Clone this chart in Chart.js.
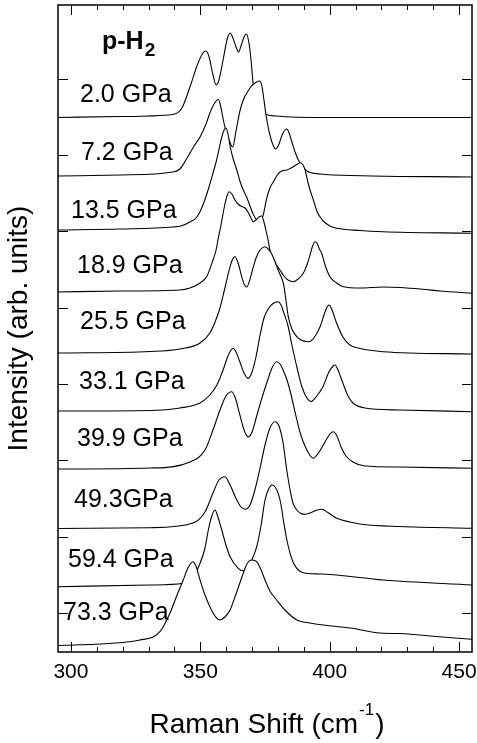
<!DOCTYPE html>
<html>
<head>
<meta charset="utf-8">
<script src="https://cdn.jsdelivr.net/npm/chart.js@4.4.0/dist/chart.umd.min.js"></script>
<style>
  html, body { margin: 0; padding: 0; background: #fff; }
  #wrap { width: 477px; height: 743px; }
</style>
</head>
<body>
<div id="wrap"><canvas id="ramanChart" width="477" height="743"></canvas></div>
<script>
// Raman shift (cm-1) and offset intensity (arb. units) of each spectrum
const shift20 = [295.0, 319.0, 339.4, 342.9, 346.0, 348.7, 351.0, 352.2, 353.4, 354.9, 356.1, 357.2, 358.8, 360.3, 361.5, 362.6, 363.8, 364.8, 365.7, 366.9, 367.8, 368.8, 369.6, 370.2, 370.7, 371.9, 373.5, 375.0, 378.9, 400.1, 455.0];
const int20 = [495.5, 496.5, 498.5, 505, 526, 547, 560, 562, 556, 538, 528, 533, 553, 573, 580, 575, 566, 561, 567, 576, 579, 570, 553, 535, 521, 509, 502, 499, 497, 495.5, 495.5];

const shift72 = [295.0, 319.0, 339.4, 342.1, 344.9, 347.6, 349.9, 352.2, 353.7, 355.3, 357.0, 358.0, 358.9, 359.9, 361.1, 362.5, 363.8, 365.3, 366.9, 368.0, 369.2, 371.1, 372.9, 373.8, 374.6, 375.4, 376.9, 379.1, 380.4, 381.6, 382.7, 383.5, 384.3, 385.4, 386.6, 388.5, 391.2, 396.3, 401.3, 455.0];
const int72 = [437, 438, 441, 444, 455, 467, 476, 489, 500, 509, 513.5, 505, 493, 482, 473, 466, 482, 502, 515, 520, 525, 530, 532, 527, 513, 498, 478, 464, 469, 478, 483, 484, 480, 471, 461, 450, 442, 439, 438, 436];

const shift135 = [295.0, 319.0, 339.4, 342.5, 346.0, 348.7, 351.0, 353.0, 354.7, 356.3, 357.4, 358.3, 359.2, 359.9, 360.7, 361.5, 362.6, 364.1, 365.3, 366.6, 367.9, 369.2, 370.4, 372.3, 374.2, 375.6, 376.9, 378.2, 379.5, 380.8, 382.0, 383.4, 384.7, 385.8, 387.3, 388.8, 389.7, 390.5, 391.2, 392.4, 393.7, 395.0, 396.3, 397.5, 400.1, 402.7, 411.7, 420.6, 455.0];
const int135 = [383, 384, 386, 387, 391, 396, 408, 423, 438, 453, 466, 476, 483, 485, 479, 467, 455, 443, 432, 423, 416, 407, 399, 392, 397, 414, 425, 431, 437, 441, 442.5, 443, 444.5, 446, 448.5, 450.3, 448, 443, 435, 423, 413, 402, 396, 392, 387, 384.7, 382.5, 381.3, 379.7];

const shift189 = [295.0, 319.0, 342.1, 346.0, 349.9, 352.6, 354.9, 356.1, 356.8, 358.0, 359.2, 360.3, 361.2, 362.2, 363.4, 364.6, 366.0, 367.3, 368.4, 369.6, 370.4, 371.5, 372.7, 373.7, 374.6, 375.4, 376.2, 376.9, 378.1, 379.2, 380.8, 382.3, 383.9, 385.9, 387.8, 389.8, 391.2, 392.4, 393.4, 394.3, 395.1, 396.0, 396.9, 398.2, 400.1, 402.4, 405.3, 411.7, 420.7, 427.2, 436.1, 442.6, 455.0];
const int189 = [321, 322, 323, 325, 330, 337, 353, 363, 373, 388, 405, 417, 421.3, 419, 413, 409, 406.5, 405, 401, 395, 391, 393, 396, 397, 391, 382, 373, 363, 355, 349, 343, 337, 333, 331.3, 334, 339.7, 348, 358, 367, 371.3, 370, 364, 359.7, 348, 336.3, 330.5, 326.3, 325, 326, 325.5, 323.7, 322, 319.7];

const shift255 = [295.0, 330.6, 342.1, 349.9, 353.7, 355.7, 357.6, 359.5, 361.5, 362.6, 363.4, 364.6, 366.0, 366.9, 367.9, 369.0, 370.5, 371.7, 373.1, 375.0, 376.2, 377.3, 378.9, 380.4, 382.1, 383.1, 384.0, 385.4, 387.3, 389.3, 392.0, 393.9, 396.3, 397.8, 399.0, 399.8, 400.9, 402.7, 405.1, 407.8, 411.7, 420.7, 455.0];
const int255 = [260, 261.5, 264, 270, 280, 291, 305, 325, 346.3, 354.5, 356.3, 350, 336.3, 329, 326, 332, 346.3, 356, 363, 366.3, 364, 360.5, 351, 341, 329.7, 313, 296.3, 284, 276.3, 272.5, 271.3, 275, 286.3, 298, 306, 308, 303, 289.7, 276, 268, 264.5, 261.3, 259];

const shift331 = [295.0, 330.6, 342.1, 349.9, 353.7, 356.4, 358.8, 360.7, 362.6, 363.8, 365.3, 366.9, 368.5, 370.0, 371.5, 373.1, 374.6, 376.2, 378.1, 380.1, 381.2, 382.3, 383.9, 385.4, 387.4, 389.3, 391.2, 392.8, 394.7, 397.4, 399.7, 401.3, 402.1, 403.2, 405.1, 407.1, 409.0, 413.6, 427.2, 455.0];
const int331 = [202, 202.5, 205, 210, 218, 228, 243, 257, 264.7, 261, 251, 240, 234.5, 241, 256, 278, 295, 304, 309.5, 311.3, 308, 300, 287, 268, 245, 226, 215, 211.5, 216, 226.3, 241, 247, 248, 243, 230, 217, 210, 205, 203, 201.3];

const shift399 = [295.0, 330.6, 346.0, 351.8, 354.9, 357.6, 359.9, 362.1, 363.4, 365.3, 366.9, 368.5, 370.0, 371.9, 373.8, 375.8, 377.7, 379.5, 380.8, 382.0, 383.5, 385.1, 386.6, 388.5, 390.8, 393.7, 395.9, 398.2, 400.1, 401.4, 402.8, 404.4, 406.3, 409.0, 413.6, 427.2, 455.0];
const int399 = [144, 145, 151, 163, 183, 203, 217, 221.3, 216, 198, 183, 176, 181, 198, 215, 231, 245, 251.3, 249, 243, 233, 218, 201, 181, 165, 154.7, 161, 171, 179, 181.3, 177, 166, 157, 151, 147, 146, 144.7];

const shift493 = [295.0, 330.6, 347.2, 351.8, 354.9, 357.2, 359.5, 361.5, 364.1, 365.7, 367.3, 369.2, 371.1, 373.1, 375.0, 376.9, 378.9, 380.4, 382.0, 383.4, 384.7, 385.8, 387.3, 388.9, 390.5, 392.4, 394.7, 396.9, 399.3, 402.7, 407.8, 413.0, 427.2, 455.0];
const int493 = [84.5, 85.3, 90, 101, 120, 133, 136.3, 128, 113, 106, 103.7, 108, 123, 145, 168, 185, 191.3, 187, 170, 143, 123, 110, 103, 99.5, 98.7, 100, 102.5, 103.7, 100.5, 94.7, 91, 88.5, 86.5, 84.7];

const shift594 = [295.0, 330.6, 343.4, 347.2, 349.9, 351.8, 353.1, 354.3, 355.7, 356.8, 358.3, 359.9, 361.5, 364.7, 366.6, 368.0, 369.2, 370.4, 371.8, 373.5, 375.0, 376.4, 377.8, 378.9, 380.1, 381.2, 382.1, 383.3, 384.7, 386.2, 387.9, 389.8, 396.3, 402.7, 420.7, 455.0];
const int594 = [26.3, 28, 29.7, 36, 49.7, 65, 83, 96, 103, 96, 83, 68, 56.3, 44.7, 42.3, 44, 48, 56, 66.3, 88, 113, 124, 128, 126, 119.7, 108, 93, 75, 59.7, 49, 43, 40.3, 39, 38, 33, 28];

const shift733 = [295.0, 326.7, 334.4, 338.3, 341.0, 343.4, 345.2, 347.1, 348.3, 349.9, 351.8, 353.7, 355.7, 357.4, 359.5, 361.5, 363.8, 366.6, 368.0, 369.9, 371.8, 373.5, 375.0, 376.9, 379.5, 382.7, 387.3, 392.4, 397.5, 407.8, 420.7, 427.2, 438.8, 455.0];
const int733 = [-32.5, -27, -18.7, 0, 18, 33, 45, 51.3, 47, 33, 18, 6.3, -3, -7, -4, 3, 19, 39.7, 49, 53, 51.3, 43, 33, 22, 13, 3, -7, -10, -12, -15, -20.3, -20.5, -23, -26.3];

const pressureLabels = ['2.0 GPa', '7.2 GPa', '13.5 GPa', '18.9 GPa', '25.5 GPa', '33.1 GPa', '39.9 GPa', '49.3GPa', '59.4 GPa', '73.3 GPa'];
const shiftTicks = [300, 350, 400, 450];
const intensityTicks = [0, 76.3, 152.6, 228.9, 305.2, 381.5, 457.8, 534.1];

const spectra = [
    [shift20, int20], [shift72, int72], [shift135, int135], [shift189, int189], [shift255, int255],
    [shift331, int331], [shift399, int399], [shift493, int493], [shift594, int594], [shift733, int733]
];

// text positions in px (left, baseline) for the pressure labels
const labelPos = [[80, 102], [81, 160], [71, 218], [77, 273], [80, 329], [79, 389], [77, 446], [74, 507], [68, 567], [63, 620]];
const FONT = '"Liberation Sans", Arial, Helvetica, sans-serif';

// inward ticks on all four sides + frame, drawn over the white fills
const framePlugin = {
    id: 'frame',
    afterDatasetsDraw(chart) {
        const ctx = chart.ctx;
        const area = chart.chartArea;
        const xs = chart.scales.x;
        const ys = chart.scales.y;
        ctx.save();
        ctx.strokeStyle = '#000';
        ctx.lineWidth = 1;
        ctx.beginPath();
        for (let v = 300; v <= 450; v += 10) {
            const px = Math.round(xs.getPixelForValue(v)) + 0.5;
            const len = shiftTicks.includes(v) ? 10 : 5;
            ctx.moveTo(px, area.bottom);
            ctx.lineTo(px, area.bottom - len);
            ctx.moveTo(px, area.top);
            ctx.lineTo(px, area.top + len);
        }
        intensityTicks.forEach(v => {
            const py = Math.round(ys.getPixelForValue(v)) + 0.5;
            ctx.moveTo(area.left, py);
            ctx.lineTo(area.left + 10, py);
            ctx.moveTo(area.right, py);
            ctx.lineTo(area.right - 10, py);
        });
        ctx.stroke();
        ctx.lineWidth = 1.5;
        ctx.strokeRect(area.left, area.top, area.right - area.left, area.bottom - area.top);
        ctx.restore();
    }
};

const textPlugin = {
    id: 'texts',
    afterDatasetsDraw(chart) {
        const ctx = chart.ctx;
        ctx.save();
        ctx.fillStyle = '#000';
        ctx.textBaseline = 'alphabetic';
        ctx.textAlign = 'left';

        ctx.font = '25px ' + FONT;
        pressureLabels.forEach((txt, i) => {
            ctx.fillText(txt, labelPos[i][0], labelPos[i][1]);
        });

        // p-H2 with subscript
        ctx.font = 'bold 25px ' + FONT;
        ctx.fillText('p-H', 102, 49);
        const w = ctx.measureText('p-H').width;
        ctx.font = 'bold 19px ' + FONT;
        ctx.fillText('2', 102 + w + 1, 56);

        // x axis title with superscript
        const main = 'Raman Shift (cm';
        ctx.font = '28px ' + FONT;
        const w1 = ctx.measureText(main).width;
        const w3 = ctx.measureText(')').width;
        ctx.font = '17px ' + FONT;
        const w2 = ctx.measureText('-1').width;
        let x0 = 266 - (w1 + w2 + w3) / 2;
        ctx.font = '28px ' + FONT;
        ctx.fillText(main, x0, 733);
        ctx.font = '17px ' + FONT;
        ctx.fillText('-1', x0 + w1 + 1, 715);
        ctx.font = '28px ' + FONT;
        ctx.fillText(')', x0 + w1 + w2 + 2, 733);
        ctx.restore();
    }
};

const ctx = document.getElementById('ramanChart').getContext('2d');
new Chart(ctx, {
    type: 'line',
    data: {
        datasets: spectra.map((s, i) => ({
            label: pressureLabels[i],
            data: s[0].map((x, j) => ({ x: x, y: s[1][j] })),
            borderColor: '#000',
            borderWidth: 1.1,
            backgroundColor: '#fff',
            fill: 'start',
            pointRadius: 0,
            cubicInterpolationMode: 'monotone',
            // lower spectra are painted over the upper ones
            order: spectra.length - i
        }))
    },
    options: {
        responsive: false,
        animation: false,
        devicePixelRatio: 1,
        layout: { padding: { top: 5, right: 5, left: 0, bottom: 0 } },
        plugins: {
            legend: { display: false },
            tooltip: { enabled: false }
        },
        scales: {
            x: {
                type: 'linear',
                min: 295,
                max: 455,
                grid: { display: false, drawTicks: false },
                border: { display: false },
                ticks: {
                    color: '#000',
                    padding: 8,
                    maxRotation: 0,
                    font: { family: FONT, size: 21 }
                },
                afterBuildTicks: scale => {
                    scale.ticks = shiftTicks.map(v => ({ value: v }));
                },
                afterFit: scale => {
                    scale.height = 91;
                    scale.paddingLeft = 0;
                    scale.paddingRight = 0;
                }
            },
            y: {
                type: 'linear',
                min: -39,
                max: 608,
                grid: { display: false, drawTicks: false },
                border: { display: false },
                ticks: { display: false },
                title: {
                    display: true,
                    text: 'Intensity (arb. units)',
                    color: '#000',
                    padding: { top: 2, bottom: 0 },
                    font: { family: FONT, size: 28 }
                },
                afterBuildTicks: scale => {
                    scale.ticks = intensityTicks.map(v => ({ value: v }));
                },
                afterFit: scale => {
                    scale.width = 58;
                    scale.paddingTop = 0;
                    scale.paddingBottom = 0;
                }
            }
        }
    },
    plugins: [framePlugin, textPlugin]
});
</script>
</body>
</html>
